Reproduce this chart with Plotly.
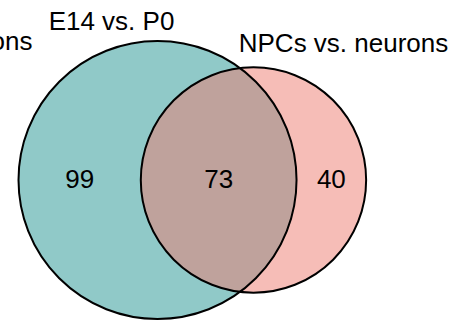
import math
import plotly.graph_objects as go

# Two-set Venn diagram: region counts
set_names = ["E14 vs. P0", "NPCs vs. neurons"]
only_counts = [99, 40]      # unique to each set
shared_count = 73           # in both sets
side_label = "NPCs vs. neurons"  # neighbouring panel label, clipped at the left edge

# drawing constants (pixel space)
W, H = 470, 325
SCALE = 10.6          # px per sqrt(count)
LEFT_EDGE = 18.5      # leftmost point of the first circle
CY = 180.0            # vertical centre of both circles
FONT = "Liberation Sans, Arial, Helvetica, sans-serif"
FS = 26
TEAL = "rgb(144,201,200)"
PINK = "rgba(237,123,112,0.5)"

sizes = [only_counts[0] + shared_count, only_counts[1] + shared_count]
r1 = SCALE * math.sqrt(sizes[0])
r2 = SCALE * math.sqrt(sizes[1])


def lens_area(d):
    a1 = math.acos((d * d + r1 * r1 - r2 * r2) / (2 * d * r1))
    a2 = math.acos((d * d + r2 * r2 - r1 * r1) / (2 * d * r2))
    k = (-d + r1 + r2) * (d + r1 - r2) * (d - r1 + r2) * (d + r1 + r2)
    return r1 * r1 * a1 + r2 * r2 * a2 - 0.5 * math.sqrt(k)


# circle area is pi*SCALE^2*count, so the lens must cover pi*SCALE^2*shared
target = math.pi * SCALE ** 2 * shared_count
lo, hi = abs(r1 - r2) + 1e-6, r1 + r2 - 1e-6
for _ in range(80):
    mid = (lo + hi) / 2
    if lens_area(mid) > target:
        lo = mid
    else:
        hi = mid
dist = (lo + hi) / 2

cx1 = LEFT_EDGE + r1
cx2 = cx1 + dist

fig = go.Figure()

shapes = [
    dict(type="circle", x0=cx1 - r1, x1=cx1 + r1, y0=CY - r1, y1=CY + r1,
         fillcolor=TEAL, line=dict(width=0), layer="below"),
    dict(type="circle", x0=cx2 - r2, x1=cx2 + r2, y0=CY - r2, y1=CY + r2,
         fillcolor=PINK, line=dict(width=0), layer="below"),
    dict(type="circle", x0=cx1 - r1, x1=cx1 + r1, y0=CY - r1, y1=CY + r1,
         fillcolor="rgba(0,0,0,0)", line=dict(color="black", width=2)),
    dict(type="circle", x0=cx2 - r2, x1=cx2 + r2, y0=CY - r2, y1=CY + r2,
         fillcolor="rgba(0,0,0,0)", line=dict(color="black", width=2)),
]

# count labels at the middle of each region along the centre line
label_x = [
    ((cx1 - r1) + (cx2 - r2)) / 2,
    ((cx1 + r1) + (cx2 + r2)) / 2,
    ((cx2 - r2) + (cx1 + r1)) / 2,
]
label_text = [str(only_counts[0]), str(only_counts[1]), str(shared_count)]
fig.add_trace(go.Scatter(
    x=label_x, y=[CY + 1] * 3, mode="text", text=label_text,
    textposition="middle center",
    textfont=dict(family=FONT, size=FS, color="black"),
    hoverinfo="skip", showlegend=False,
))

# set names
fig.add_trace(go.Scatter(
    x=[111.5, 343.5], y=[23.5, 45.5], mode="text", text=set_names,
    textposition="middle center",
    textfont=dict(family=FONT, size=FS, color="black"),
    hoverinfo="skip", showlegend=False,
))

fig.add_annotation(
    x=35, y=41, xref="x", yref="y", text=side_label, showarrow=False,
    xanchor="right", yanchor="middle",
    font=dict(family=FONT, size=FS, color="black"),
)

fig.update_layout(
    width=W, height=H, margin=dict(l=0, r=0, t=0, b=0),
    paper_bgcolor="white", plot_bgcolor="white",
    shapes=shapes,
    xaxis=dict(range=[0, W], visible=False, fixedrange=True),
    yaxis=dict(range=[H, 0], visible=False, fixedrange=True),
)

fig.write_html("out.html")
